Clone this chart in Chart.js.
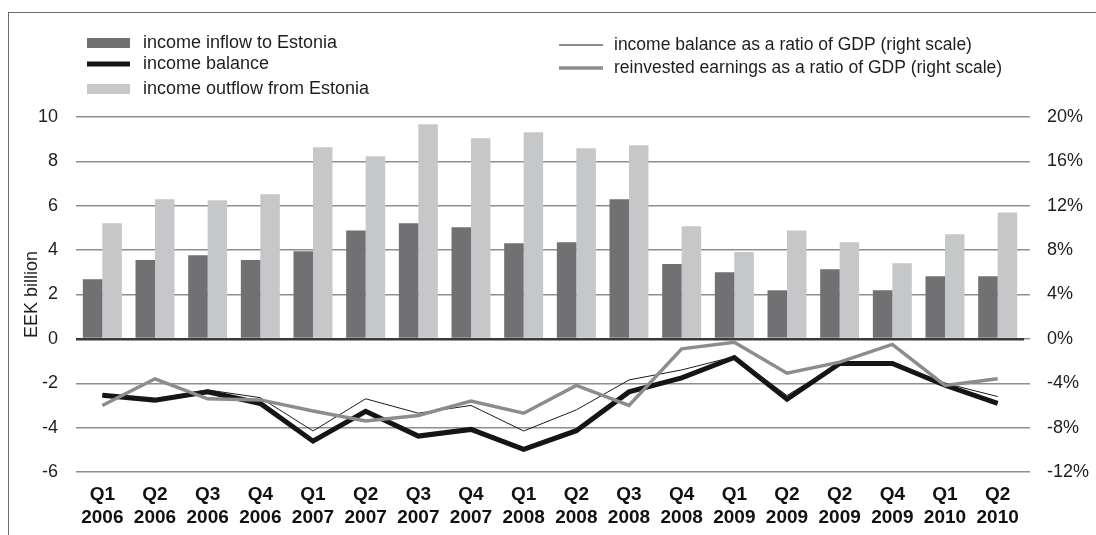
<!DOCTYPE html>
<html>
<head>
<meta charset="utf-8">
<script src="https://cdn.jsdelivr.net/npm/chart.js@4"></script>
<style>
  html, body { margin: 0; padding: 0; background: #fff; }
  #wrap { position: relative; width: 1096px; height: 535px; }
  #frame { position: absolute; left: 8px; top: 12px; right: 0; bottom: 0;
           border-top: 1px solid #6b6b6b; border-left: 1px solid #6b6b6b; pointer-events: none; }
</style>
</head>
<body>
<div id="wrap">
  <canvas id="income-chart" width="1096" height="535"></canvas>
  <div id="frame"></div>
</div>
<script>
// quarterly income account, EEK billion and % of GDP
const quarters = [
  ['Q1', '2006'], ['Q2', '2006'], ['Q3', '2006'], ['Q4', '2006'],
  ['Q1', '2007'], ['Q2', '2007'], ['Q3', '2007'], ['Q4', '2007'],
  ['Q1', '2008'], ['Q2', '2008'], ['Q3', '2008'], ['Q4', '2008'],
  ['Q1', '2009'], ['Q2', '2009'], ['Q2', '2009'], ['Q4', '2009'],
  ['Q1', '2010'], ['Q2', '2010']
];
const inflow = [2.69, 3.55, 3.77, 3.55, 3.95, 4.89, 5.21, 5.03, 4.31, 4.35, 6.29, 3.37, 3.00, 2.19, 3.14, 2.19, 2.82, 2.82];
const outflow = [5.21, 6.29, 6.25, 6.52, 8.64, 8.23, 9.67, 9.04, 9.31, 8.59, 8.73, 5.08, 3.91, 4.89, 4.35, 3.41, 4.71, 5.70];
const balance = [-2.54, -2.76, -2.39, -2.91, -4.61, -3.26, -4.38, -4.08, -4.98, -4.14, -2.39, -1.76, -0.84, -2.72, -1.11, -1.11, -2.09, -2.91];
const balanceGdp = [-5.0, -5.4, -4.6, -5.3, -8.3, -5.4, -6.7, -6.0, -8.3, -6.4, -3.7, -2.8, -1.6, -5.1, -2.2, -2.2, -4.0, -5.2];
const reinvestedGdp = [-6.0, -3.6, -5.4, -5.5, -6.5, -7.4, -6.9, -5.6, -6.7, -4.2, -6.0, -0.9, -0.3, -3.1, -2.1, -0.5, -4.2, -3.6];

// axis ranges: [min, max, step]
const eekTicks = [-6, 10, 2];
const pctTicks = [-12, 20, 4];

const FONT = '"Liberation Sans", Arial, Helvetica, sans-serif';
const GRID = '#8e8e8e';
const TEXT = '#1e1e1e';

// legend laid out in two columns above the plot, one slot per dataset
const legendSlots = [
  { x: 87, y: 43, col: 0 },   // inflow
  { x: 87, y: 64, col: 0 },   // balance
  { x: 87, y: 89, col: 0 },   // outflow
  { x: 559, y: 45, col: 1 },  // balance % GDP
  { x: 559, y: 68, col: 1 }   // reinvested % GDP
];

const sideLegend = {
  id: 'sideLegend',
  afterDraw(chart) {
    const ctx = chart.ctx;
    ctx.save();
    ctx.textBaseline = 'middle';
    chart.data.datasets.forEach(function(ds, i) {
      const s = legendSlots[i];
      const w = s.col === 0 ? 43 : 44;
      if (ds.type === 'bar') {
        ctx.fillStyle = ds.backgroundColor;
        ctx.fillRect(s.x, s.y - 5, w, 10);
      } else {
        ctx.strokeStyle = ds.borderColor;
        ctx.lineWidth = ds.borderWidth;
        ctx.beginPath();
        ctx.moveTo(s.x, s.y);
        ctx.lineTo(s.x + w, s.y);
        ctx.stroke();
      }
      ctx.font = (s.col === 0 ? '18px ' : '17.5px ') + FONT;
      ctx.fillStyle = TEXT;
      ctx.fillText(ds.label, s.x + (s.col === 0 ? 56 : 55), s.y);
    });
    ctx.restore();
  }
};

const ctx = document.getElementById('income-chart').getContext('2d');
const chart = new Chart(ctx, {
  data: {
    labels: quarters,
    datasets: [
      {
        type: 'bar',
        label: 'income inflow to Estonia',
        data: inflow,
        backgroundColor: '#717174',
        yAxisID: 'y',
        order: 10
      },
      {
        type: 'line',
        label: 'income balance',
        data: balance,
        borderColor: '#151515',
        borderWidth: 5,
        yAxisID: 'y',
        order: 3
      },
      {
        type: 'bar',
        label: 'income outflow from Estonia',
        data: outflow,
        backgroundColor: '#c6c7c9',
        yAxisID: 'y',
        order: 10
      },
      {
        type: 'line',
        label: 'income balance as a ratio of GDP (right scale)',
        data: balanceGdp,
        borderColor: '#1a1a1a',
        borderWidth: 1,
        yAxisID: 'y1',
        order: 2
      },
      {
        type: 'line',
        label: 'reinvested earnings as a ratio of GDP (right scale)',
        data: reinvestedGdp,
        borderColor: '#8c8c88',
        borderWidth: 3.5,
        yAxisID: 'y1',
        order: 1
      }
    ]
  },
  options: {
    responsive: false,
    animation: false,
    devicePixelRatio: 1,
    layout: { padding: { top: 117, left: 21, right: 0, bottom: 0 } },
    datasets: {
      bar: { categoryPercentage: 0.74, barPercentage: 1 },
      line: { tension: 0, pointRadius: 0, borderJoinStyle: 'miter', fill: false }
    },
    plugins: {
      legend: { display: false },
      tooltip: { enabled: false }
    },
    scales: {
      x: {
        grid: { display: false, drawTicks: false },
        border: { display: false },
        ticks: {
          color: '#111',
          padding: 11,
          maxRotation: 0,
          autoSkip: false,
          font: { family: FONT, size: 19, weight: 'bold', lineHeight: 1.21 }
        },
        afterFit(scale) { scale.height = 63; }
      },
      y: {
        position: 'left',
        min: eekTicks[0],
        max: eekTicks[1],
        ticks: {
          stepSize: eekTicks[2],
          color: TEXT,
          padding: 18,
          font: { family: FONT, size: 18 }
        },
        grid: {
          color: function(c) { return c.tick.value === 0 ? '#3a3a3a' : GRID; },
          lineWidth: function(c) { return c.tick.value === 0 ? 2.5 : 1.5; },
          drawTicks: false
        },
        border: { display: false },
        title: {
          display: true,
          text: 'EEK billion',
          color: TEXT,
          padding: 0,
          font: { family: FONT, size: 18 }
        },
        afterFit(scale) { scale.width = 55; }
      },
      y1: {
        position: 'right',
        min: pctTicks[0],
        max: pctTicks[1],
        ticks: {
          stepSize: pctTicks[2],
          color: TEXT,
          padding: 17,
          font: { family: FONT, size: 18 },
          callback: function(v) { return v + '%'; }
        },
        grid: {
          drawOnChartArea: false,
          drawTicks: true,
          tickLength: 6,
          color: GRID,
          lineWidth: 1.5
        },
        border: { display: false },
        afterFit(scale) { scale.width = 72; }
      }
    }
  },
  plugins: [sideLegend]
});
</script>
</body>
</html>
